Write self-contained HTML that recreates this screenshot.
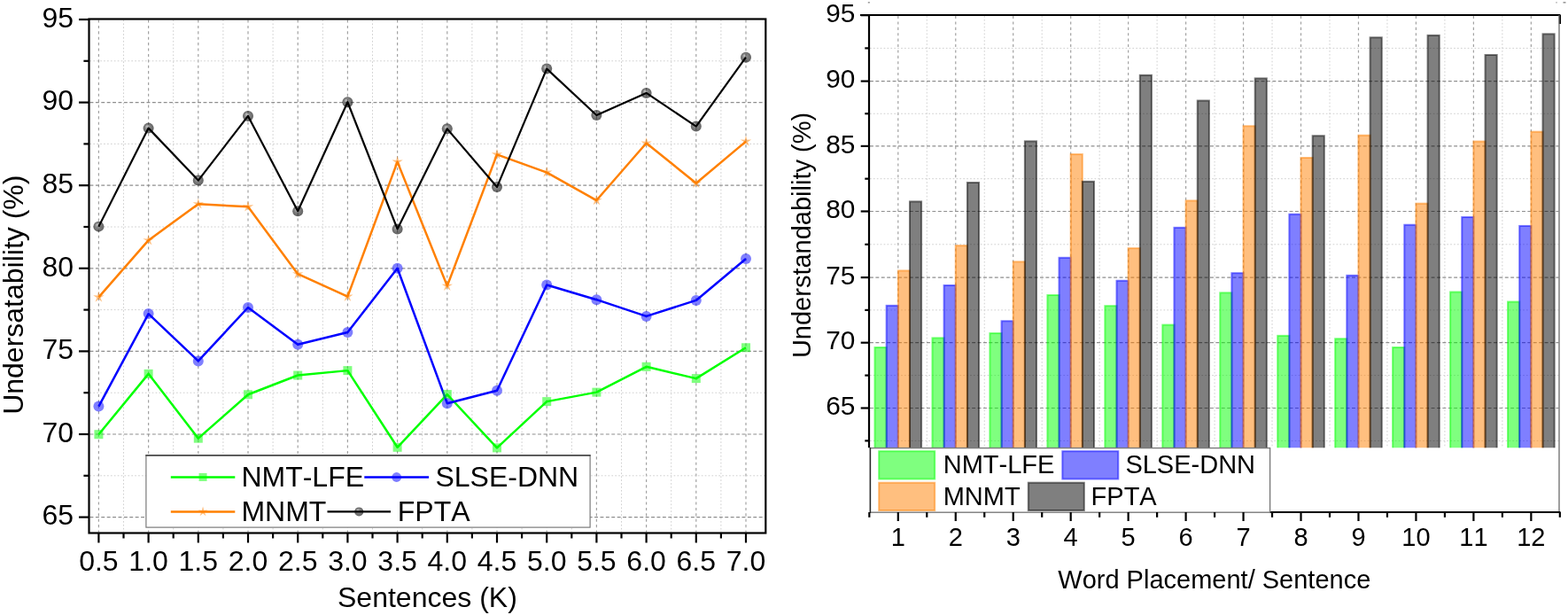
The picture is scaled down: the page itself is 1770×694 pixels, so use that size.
<!DOCTYPE html>
<html><head><meta charset="utf-8"><title>Understandability charts</title>
<style>
html,body{margin:0;padding:0;background:#fff;}
body{width:1770px;height:694px;overflow:hidden;}
svg{display:block;font-family:"Liberation Sans", Arial, sans-serif;}
text{fill:#000;font-kerning:none;}
</style></head>
<body>
<svg width="1770" height="694" viewBox="0 0 1770 694">
<defs><radialGradient id="sph" cx="0.5" cy="0.5" r="0.5" fx="0.35" fy="0.32"><stop offset="0" stop-color="#000" stop-opacity="0.22"/><stop offset="0.45" stop-color="#000" stop-opacity="0.48"/><stop offset="1" stop-color="#000" stop-opacity="0.62"/></radialGradient></defs>
<rect width="1770" height="694" fill="#fff"/>
<line x1="111.4" y1="22.5" x2="111.4" y2="600.5" stroke="#a2a2a2" stroke-width="1.2" stroke-dasharray="3.1 3.3"/>
<line x1="167.6" y1="22.5" x2="167.6" y2="600.5" stroke="#a2a2a2" stroke-width="1.2" stroke-dasharray="3.1 3.3"/>
<line x1="223.8" y1="22.5" x2="223.8" y2="600.5" stroke="#a2a2a2" stroke-width="1.2" stroke-dasharray="3.1 3.3"/>
<line x1="280" y1="22.5" x2="280" y2="600.5" stroke="#a2a2a2" stroke-width="1.2" stroke-dasharray="3.1 3.3"/>
<line x1="336.2" y1="22.5" x2="336.2" y2="600.5" stroke="#a2a2a2" stroke-width="1.2" stroke-dasharray="3.1 3.3"/>
<line x1="392.4" y1="22.5" x2="392.4" y2="600.5" stroke="#a2a2a2" stroke-width="1.2" stroke-dasharray="3.1 3.3"/>
<line x1="448.6" y1="22.5" x2="448.6" y2="600.5" stroke="#a2a2a2" stroke-width="1.2" stroke-dasharray="3.1 3.3"/>
<line x1="504.8" y1="22.5" x2="504.8" y2="600.5" stroke="#a2a2a2" stroke-width="1.2" stroke-dasharray="3.1 3.3"/>
<line x1="561" y1="22.5" x2="561" y2="600.5" stroke="#a2a2a2" stroke-width="1.2" stroke-dasharray="3.1 3.3"/>
<line x1="617.2" y1="22.5" x2="617.2" y2="600.5" stroke="#a2a2a2" stroke-width="1.2" stroke-dasharray="3.1 3.3"/>
<line x1="673.4" y1="22.5" x2="673.4" y2="600.5" stroke="#a2a2a2" stroke-width="1.2" stroke-dasharray="3.1 3.3"/>
<line x1="729.6" y1="22.5" x2="729.6" y2="600.5" stroke="#a2a2a2" stroke-width="1.2" stroke-dasharray="3.1 3.3"/>
<line x1="785.8" y1="22.5" x2="785.8" y2="600.5" stroke="#a2a2a2" stroke-width="1.2" stroke-dasharray="3.1 3.3"/>
<line x1="842" y1="22.5" x2="842" y2="600.5" stroke="#a2a2a2" stroke-width="1.2" stroke-dasharray="3.1 3.3"/>
<line x1="139.5" y1="22.5" x2="139.5" y2="600.5" stroke="#d0d0d0" stroke-width="1" stroke-dasharray="1.7 2.2"/>
<line x1="195.7" y1="22.5" x2="195.7" y2="600.5" stroke="#d0d0d0" stroke-width="1" stroke-dasharray="1.7 2.2"/>
<line x1="251.9" y1="22.5" x2="251.9" y2="600.5" stroke="#d0d0d0" stroke-width="1" stroke-dasharray="1.7 2.2"/>
<line x1="308.1" y1="22.5" x2="308.1" y2="600.5" stroke="#d0d0d0" stroke-width="1" stroke-dasharray="1.7 2.2"/>
<line x1="364.3" y1="22.5" x2="364.3" y2="600.5" stroke="#d0d0d0" stroke-width="1" stroke-dasharray="1.7 2.2"/>
<line x1="420.5" y1="22.5" x2="420.5" y2="600.5" stroke="#d0d0d0" stroke-width="1" stroke-dasharray="1.7 2.2"/>
<line x1="476.7" y1="22.5" x2="476.7" y2="600.5" stroke="#d0d0d0" stroke-width="1" stroke-dasharray="1.7 2.2"/>
<line x1="532.9" y1="22.5" x2="532.9" y2="600.5" stroke="#d0d0d0" stroke-width="1" stroke-dasharray="1.7 2.2"/>
<line x1="589.1" y1="22.5" x2="589.1" y2="600.5" stroke="#d0d0d0" stroke-width="1" stroke-dasharray="1.7 2.2"/>
<line x1="645.3" y1="22.5" x2="645.3" y2="600.5" stroke="#d0d0d0" stroke-width="1" stroke-dasharray="1.7 2.2"/>
<line x1="701.5" y1="22.5" x2="701.5" y2="600.5" stroke="#d0d0d0" stroke-width="1" stroke-dasharray="1.7 2.2"/>
<line x1="757.7" y1="22.5" x2="757.7" y2="600.5" stroke="#d0d0d0" stroke-width="1" stroke-dasharray="1.7 2.2"/>
<line x1="813.9" y1="22.5" x2="813.9" y2="600.5" stroke="#d0d0d0" stroke-width="1" stroke-dasharray="1.7 2.2"/>
<line x1="101.5" y1="583.6" x2="863.3" y2="583.6" stroke="#8e8e8e" stroke-width="1.2" stroke-dasharray="3.9 2.5"/>
<line x1="101.5" y1="490" x2="863.3" y2="490" stroke="#8e8e8e" stroke-width="1.2" stroke-dasharray="3.9 2.5"/>
<line x1="101.5" y1="396.4" x2="863.3" y2="396.4" stroke="#8e8e8e" stroke-width="1.2" stroke-dasharray="3.9 2.5"/>
<line x1="101.5" y1="302.8" x2="863.3" y2="302.8" stroke="#8e8e8e" stroke-width="1.2" stroke-dasharray="3.9 2.5"/>
<line x1="101.5" y1="209.2" x2="863.3" y2="209.2" stroke="#8e8e8e" stroke-width="1.2" stroke-dasharray="3.9 2.5"/>
<line x1="101.5" y1="115.6" x2="863.3" y2="115.6" stroke="#8e8e8e" stroke-width="1.2" stroke-dasharray="3.9 2.5"/>
<line x1="101.5" y1="536.8" x2="863.3" y2="536.8" stroke="#d0d0d0" stroke-width="1" stroke-dasharray="1.7 2.2"/>
<line x1="101.5" y1="443.2" x2="863.3" y2="443.2" stroke="#d0d0d0" stroke-width="1" stroke-dasharray="1.7 2.2"/>
<line x1="101.5" y1="349.6" x2="863.3" y2="349.6" stroke="#d0d0d0" stroke-width="1" stroke-dasharray="1.7 2.2"/>
<line x1="101.5" y1="256" x2="863.3" y2="256" stroke="#d0d0d0" stroke-width="1" stroke-dasharray="1.7 2.2"/>
<line x1="101.5" y1="162.4" x2="863.3" y2="162.4" stroke="#d0d0d0" stroke-width="1" stroke-dasharray="1.7 2.2"/>
<line x1="101.5" y1="68.8" x2="863.3" y2="68.8" stroke="#d0d0d0" stroke-width="1" stroke-dasharray="1.7 2.2"/>
<polyline points="111.4,490.19 167.6,421.86 223.8,494.68 280,445.26 336.2,423.54 392.4,418.12 448.6,504.79 504.8,445.07 561,505.35 617.2,453.12 673.4,442.64 729.6,413.81 785.8,427.1 842,392.28" fill="none" stroke="#00ff00" stroke-width="2.5" stroke-linejoin="round"/>
<polyline points="111.4,458.55 167.6,354.09 223.8,407.44 280,346.98 336.2,388.72 392.4,375.06 448.6,302.8 504.8,455.18 561,440.77 617.2,321.52 673.4,338.18 729.6,356.9 785.8,338.93 842,291.94" fill="none" stroke="#0000ff" stroke-width="2.5" stroke-linejoin="round"/>
<polyline points="111.4,335.37 167.6,271.16 223.8,230.17 280,233.35 336.2,309.16 392.4,334.62 448.6,182.62 504.8,322.64 561,174.38 617.2,194.6 673.4,226.05 729.6,161.46 785.8,206.77 842,159.59" fill="none" stroke="#ff8000" stroke-width="2.5" stroke-linejoin="round"/>
<polyline points="111.4,255.63 167.6,144.62 223.8,203.58 280,130.95 336.2,238.22 392.4,115.23 448.6,258.43 504.8,145.36 561,211.07 617.2,77.6 673.4,130.01 729.6,104.93 785.8,142.56 842,64.68" fill="none" stroke="#000000" stroke-width="2.2" stroke-linejoin="round"/>
<rect x="106.4" y="485.19" width="10" height="10" fill="#00ff00" fill-opacity="0.5"/>
<rect x="162.6" y="416.86" width="10" height="10" fill="#00ff00" fill-opacity="0.5"/>
<rect x="218.8" y="489.68" width="10" height="10" fill="#00ff00" fill-opacity="0.5"/>
<rect x="275" y="440.26" width="10" height="10" fill="#00ff00" fill-opacity="0.5"/>
<rect x="331.2" y="418.54" width="10" height="10" fill="#00ff00" fill-opacity="0.5"/>
<rect x="387.4" y="413.12" width="10" height="10" fill="#00ff00" fill-opacity="0.5"/>
<rect x="443.6" y="499.79" width="10" height="10" fill="#00ff00" fill-opacity="0.5"/>
<rect x="499.8" y="440.07" width="10" height="10" fill="#00ff00" fill-opacity="0.5"/>
<rect x="556" y="500.35" width="10" height="10" fill="#00ff00" fill-opacity="0.5"/>
<rect x="612.2" y="448.12" width="10" height="10" fill="#00ff00" fill-opacity="0.5"/>
<rect x="668.4" y="437.64" width="10" height="10" fill="#00ff00" fill-opacity="0.5"/>
<rect x="724.6" y="408.81" width="10" height="10" fill="#00ff00" fill-opacity="0.5"/>
<rect x="780.8" y="422.1" width="10" height="10" fill="#00ff00" fill-opacity="0.5"/>
<rect x="837" y="387.28" width="10" height="10" fill="#00ff00" fill-opacity="0.5"/>
<circle cx="111.4" cy="458.55" r="6" fill="#0000ff" fill-opacity="0.5"/>
<circle cx="167.6" cy="354.09" r="6" fill="#0000ff" fill-opacity="0.5"/>
<circle cx="223.8" cy="407.44" r="6" fill="#0000ff" fill-opacity="0.5"/>
<circle cx="280" cy="346.98" r="6" fill="#0000ff" fill-opacity="0.5"/>
<circle cx="336.2" cy="388.72" r="6" fill="#0000ff" fill-opacity="0.5"/>
<circle cx="392.4" cy="375.06" r="6" fill="#0000ff" fill-opacity="0.5"/>
<circle cx="448.6" cy="302.8" r="6" fill="#0000ff" fill-opacity="0.5"/>
<circle cx="504.8" cy="455.18" r="6" fill="#0000ff" fill-opacity="0.5"/>
<circle cx="561" cy="440.77" r="6" fill="#0000ff" fill-opacity="0.5"/>
<circle cx="617.2" cy="321.52" r="6" fill="#0000ff" fill-opacity="0.5"/>
<circle cx="673.4" cy="338.18" r="6" fill="#0000ff" fill-opacity="0.5"/>
<circle cx="729.6" cy="356.9" r="6" fill="#0000ff" fill-opacity="0.5"/>
<circle cx="785.8" cy="338.93" r="6" fill="#0000ff" fill-opacity="0.5"/>
<circle cx="842" cy="291.94" r="6" fill="#0000ff" fill-opacity="0.5"/>
<polygon points="111.4,328.87 112.69,333.59 117.58,333.36 113.49,336.05 115.22,340.63 111.4,337.57 107.58,340.63 109.31,336.05 105.22,333.36 110.11,333.59" fill="#ff8000" fill-opacity="0.5"/>
<polygon points="167.6,264.66 168.89,269.38 173.78,269.15 169.69,271.84 171.42,276.42 167.6,273.36 163.78,276.42 165.51,271.84 161.42,269.15 166.31,269.38" fill="#ff8000" fill-opacity="0.5"/>
<polygon points="223.8,223.67 225.09,228.39 229.98,228.16 225.89,230.85 227.62,235.43 223.8,232.37 219.98,235.43 221.71,230.85 217.62,228.16 222.51,228.39" fill="#ff8000" fill-opacity="0.5"/>
<polygon points="280,226.85 281.29,231.57 286.18,231.34 282.09,234.03 283.82,238.61 280,235.55 276.18,238.61 277.91,234.03 273.82,231.34 278.71,231.57" fill="#ff8000" fill-opacity="0.5"/>
<polygon points="336.2,302.66 337.49,307.38 342.38,307.16 338.29,309.84 340.02,314.42 336.2,311.36 332.38,314.42 334.11,309.84 330.02,307.16 334.91,307.38" fill="#ff8000" fill-opacity="0.5"/>
<polygon points="392.4,328.12 393.69,332.84 398.58,332.62 394.49,335.3 396.22,339.88 392.4,336.82 388.58,339.88 390.31,335.3 386.22,332.62 391.11,332.84" fill="#ff8000" fill-opacity="0.5"/>
<polygon points="448.6,176.12 449.89,180.84 454.78,180.61 450.69,183.3 452.42,187.88 448.6,184.82 444.78,187.88 446.51,183.3 442.42,180.61 447.31,180.84" fill="#ff8000" fill-opacity="0.5"/>
<polygon points="504.8,316.14 506.09,320.86 510.98,320.63 506.89,323.32 508.62,327.9 504.8,324.84 500.98,327.9 502.71,323.32 498.62,320.63 503.51,320.86" fill="#ff8000" fill-opacity="0.5"/>
<polygon points="561,167.88 562.29,172.6 567.18,172.37 563.09,175.06 564.82,179.64 561,176.58 557.18,179.64 558.91,175.06 554.82,172.37 559.71,172.6" fill="#ff8000" fill-opacity="0.5"/>
<polygon points="617.2,188.1 618.49,192.82 623.38,192.59 619.29,195.28 621.02,199.86 617.2,196.8 613.38,199.86 615.11,195.28 611.02,192.59 615.91,192.82" fill="#ff8000" fill-opacity="0.5"/>
<polygon points="673.4,219.55 674.69,224.27 679.58,224.04 675.49,226.73 677.22,231.31 673.4,228.25 669.58,231.31 671.31,226.73 667.22,224.04 672.11,224.27" fill="#ff8000" fill-opacity="0.5"/>
<polygon points="729.6,154.96 730.89,159.68 735.78,159.46 731.69,162.14 733.42,166.72 729.6,163.66 725.78,166.72 727.51,162.14 723.42,159.46 728.31,159.68" fill="#ff8000" fill-opacity="0.5"/>
<polygon points="785.8,200.27 787.09,204.99 791.98,204.76 787.89,207.45 789.62,212.03 785.8,208.97 781.98,212.03 783.71,207.45 779.62,204.76 784.51,204.99" fill="#ff8000" fill-opacity="0.5"/>
<polygon points="842,153.09 843.29,157.81 848.18,157.58 844.09,160.27 845.82,164.85 842,161.79 838.18,164.85 839.91,160.27 835.82,157.58 840.71,157.81" fill="#ff8000" fill-opacity="0.5"/>
<circle cx="111.4" cy="255.63" r="6" fill="url(#sph)"/>
<circle cx="167.6" cy="144.62" r="6" fill="url(#sph)"/>
<circle cx="223.8" cy="203.58" r="6" fill="url(#sph)"/>
<circle cx="280" cy="130.95" r="6" fill="url(#sph)"/>
<circle cx="336.2" cy="238.22" r="6" fill="url(#sph)"/>
<circle cx="392.4" cy="115.23" r="6" fill="url(#sph)"/>
<circle cx="448.6" cy="258.43" r="6" fill="url(#sph)"/>
<circle cx="504.8" cy="145.36" r="6" fill="url(#sph)"/>
<circle cx="561" cy="211.07" r="6" fill="url(#sph)"/>
<circle cx="617.2" cy="77.6" r="6" fill="url(#sph)"/>
<circle cx="673.4" cy="130.01" r="6" fill="url(#sph)"/>
<circle cx="729.6" cy="104.93" r="6" fill="url(#sph)"/>
<circle cx="785.8" cy="142.56" r="6" fill="url(#sph)"/>
<circle cx="842" cy="64.68" r="6" fill="url(#sph)"/>
<rect x="100.5" y="21.5" width="763.8" height="580" fill="none" stroke="#000" stroke-width="2.2"/>
<line x1="89" y1="583.6" x2="100.5" y2="583.6" stroke="#000" stroke-width="2.2"/>
<text x="83.1" y="592.4" text-anchor="end" font-size="32">65</text>
<line x1="89" y1="490" x2="100.5" y2="490" stroke="#000" stroke-width="2.2"/>
<text x="83.1" y="498.8" text-anchor="end" font-size="32">70</text>
<line x1="89" y1="396.4" x2="100.5" y2="396.4" stroke="#000" stroke-width="2.2"/>
<text x="83.1" y="405.2" text-anchor="end" font-size="32">75</text>
<line x1="89" y1="302.8" x2="100.5" y2="302.8" stroke="#000" stroke-width="2.2"/>
<text x="83.1" y="311.6" text-anchor="end" font-size="32">80</text>
<line x1="89" y1="209.2" x2="100.5" y2="209.2" stroke="#000" stroke-width="2.2"/>
<text x="83.1" y="218" text-anchor="end" font-size="32">85</text>
<line x1="89" y1="115.6" x2="100.5" y2="115.6" stroke="#000" stroke-width="2.2"/>
<text x="83.1" y="124.4" text-anchor="end" font-size="32">90</text>
<line x1="89" y1="22" x2="100.5" y2="22" stroke="#000" stroke-width="2.2"/>
<text x="83.1" y="30.8" text-anchor="end" font-size="32">95</text>
<line x1="94.4" y1="536.8" x2="100.5" y2="536.8" stroke="#000" stroke-width="2.2"/>
<line x1="94.4" y1="443.2" x2="100.5" y2="443.2" stroke="#000" stroke-width="2.2"/>
<line x1="94.4" y1="349.6" x2="100.5" y2="349.6" stroke="#000" stroke-width="2.2"/>
<line x1="94.4" y1="256" x2="100.5" y2="256" stroke="#000" stroke-width="2.2"/>
<line x1="94.4" y1="162.4" x2="100.5" y2="162.4" stroke="#000" stroke-width="2.2"/>
<line x1="94.4" y1="68.8" x2="100.5" y2="68.8" stroke="#000" stroke-width="2.2"/>
<line x1="111.4" y1="601.5" x2="111.4" y2="612.5" stroke="#000" stroke-width="2.2"/>
<text x="111.4" y="644.2" text-anchor="middle" font-size="32">0.5</text>
<line x1="167.6" y1="601.5" x2="167.6" y2="612.5" stroke="#000" stroke-width="2.2"/>
<text x="167.6" y="644.2" text-anchor="middle" font-size="32">1.0</text>
<line x1="223.8" y1="601.5" x2="223.8" y2="612.5" stroke="#000" stroke-width="2.2"/>
<text x="223.8" y="644.2" text-anchor="middle" font-size="32">1.5</text>
<line x1="280" y1="601.5" x2="280" y2="612.5" stroke="#000" stroke-width="2.2"/>
<text x="280" y="644.2" text-anchor="middle" font-size="32">2.0</text>
<line x1="336.2" y1="601.5" x2="336.2" y2="612.5" stroke="#000" stroke-width="2.2"/>
<text x="336.2" y="644.2" text-anchor="middle" font-size="32">2.5</text>
<line x1="392.4" y1="601.5" x2="392.4" y2="612.5" stroke="#000" stroke-width="2.2"/>
<text x="392.4" y="644.2" text-anchor="middle" font-size="32">3.0</text>
<line x1="448.6" y1="601.5" x2="448.6" y2="612.5" stroke="#000" stroke-width="2.2"/>
<text x="448.6" y="644.2" text-anchor="middle" font-size="32">3.5</text>
<line x1="504.8" y1="601.5" x2="504.8" y2="612.5" stroke="#000" stroke-width="2.2"/>
<text x="504.8" y="644.2" text-anchor="middle" font-size="32">4.0</text>
<line x1="561" y1="601.5" x2="561" y2="612.5" stroke="#000" stroke-width="2.2"/>
<text x="561" y="644.2" text-anchor="middle" font-size="32">4.5</text>
<line x1="617.2" y1="601.5" x2="617.2" y2="612.5" stroke="#000" stroke-width="2.2"/>
<text x="617.2" y="644.2" text-anchor="middle" font-size="32">5.0</text>
<line x1="673.4" y1="601.5" x2="673.4" y2="612.5" stroke="#000" stroke-width="2.2"/>
<text x="673.4" y="644.2" text-anchor="middle" font-size="32">5.5</text>
<line x1="729.6" y1="601.5" x2="729.6" y2="612.5" stroke="#000" stroke-width="2.2"/>
<text x="729.6" y="644.2" text-anchor="middle" font-size="32">6.0</text>
<line x1="785.8" y1="601.5" x2="785.8" y2="612.5" stroke="#000" stroke-width="2.2"/>
<text x="785.8" y="644.2" text-anchor="middle" font-size="32">6.5</text>
<line x1="842" y1="601.5" x2="842" y2="612.5" stroke="#000" stroke-width="2.2"/>
<text x="842" y="644.2" text-anchor="middle" font-size="32">7.0</text>
<line x1="139.5" y1="601.5" x2="139.5" y2="607.5" stroke="#000" stroke-width="2.2"/>
<line x1="195.7" y1="601.5" x2="195.7" y2="607.5" stroke="#000" stroke-width="2.2"/>
<line x1="251.9" y1="601.5" x2="251.9" y2="607.5" stroke="#000" stroke-width="2.2"/>
<line x1="308.1" y1="601.5" x2="308.1" y2="607.5" stroke="#000" stroke-width="2.2"/>
<line x1="364.3" y1="601.5" x2="364.3" y2="607.5" stroke="#000" stroke-width="2.2"/>
<line x1="420.5" y1="601.5" x2="420.5" y2="607.5" stroke="#000" stroke-width="2.2"/>
<line x1="476.7" y1="601.5" x2="476.7" y2="607.5" stroke="#000" stroke-width="2.2"/>
<line x1="532.9" y1="601.5" x2="532.9" y2="607.5" stroke="#000" stroke-width="2.2"/>
<line x1="589.1" y1="601.5" x2="589.1" y2="607.5" stroke="#000" stroke-width="2.2"/>
<line x1="645.3" y1="601.5" x2="645.3" y2="607.5" stroke="#000" stroke-width="2.2"/>
<line x1="701.5" y1="601.5" x2="701.5" y2="607.5" stroke="#000" stroke-width="2.2"/>
<line x1="757.7" y1="601.5" x2="757.7" y2="607.5" stroke="#000" stroke-width="2.2"/>
<line x1="813.9" y1="601.5" x2="813.9" y2="607.5" stroke="#000" stroke-width="2.2"/>
<text x="482.4" y="684.7" text-anchor="middle" font-size="32">Sentences (K)</text>
<text transform="translate(25.8,332.7) rotate(-90)" text-anchor="middle" font-size="32">Undersatability (%)</text>
<rect x="164.9" y="513.9" width="501.2" height="81.2" fill="#fff" stroke="#7a7a7a" stroke-width="1.2"/>
<line x1="164.3" y1="513.9" x2="666.7" y2="513.9" stroke="#2a2a2a" stroke-width="1.3"/>
<line x1="192.8" y1="538.4" x2="265.3" y2="538.4" stroke="#00ff00" stroke-width="2.5"/>
<rect x="224.55" y="533.9" width="9" height="9" fill="#00ff00" fill-opacity="0.5"/>
<text x="272.4" y="549.3" font-size="32">NMT-LFE</text>
<line x1="411.3" y1="538.5" x2="484.1" y2="538.5" stroke="#0000ff" stroke-width="2.5"/>
<circle cx="447.7" cy="538.5" r="5.4" fill="#0000ff" fill-opacity="0.5"/>
<text x="491.4" y="549.3" font-size="32">SLSE-DNN</text>
<line x1="192.8" y1="577.4" x2="265.3" y2="577.4" stroke="#ff8000" stroke-width="2.5"/>
<polygon points="229.05,571.55 230.21,575.8 234.61,575.59 230.93,578.01 232.49,582.13 229.05,579.38 225.61,582.13 227.17,578.01 223.49,575.59 227.89,575.8" fill="#ff8000" fill-opacity="0.5"/>
<text x="272.4" y="588.3" font-size="32">MNMT</text>
<line x1="369.5" y1="577.4" x2="441" y2="577.4" stroke="#000000" stroke-width="2.2"/>
<circle cx="405.25" cy="577.4" r="5" fill="url(#sph)"/>
<text x="448.8" y="588.3" font-size="32">FPTA</text>
<line x1="1013.8" y1="18" x2="1013.8" y2="505.2" stroke="#a2a2a2" stroke-width="1.2" stroke-dasharray="3.1 3.3"/>
<line x1="1078.76" y1="18" x2="1078.76" y2="505.2" stroke="#a2a2a2" stroke-width="1.2" stroke-dasharray="3.1 3.3"/>
<line x1="1143.72" y1="18" x2="1143.72" y2="505.2" stroke="#a2a2a2" stroke-width="1.2" stroke-dasharray="3.1 3.3"/>
<line x1="1208.68" y1="18" x2="1208.68" y2="505.2" stroke="#a2a2a2" stroke-width="1.2" stroke-dasharray="3.1 3.3"/>
<line x1="1273.64" y1="18" x2="1273.64" y2="505.2" stroke="#a2a2a2" stroke-width="1.2" stroke-dasharray="3.1 3.3"/>
<line x1="1338.6" y1="18" x2="1338.6" y2="505.2" stroke="#a2a2a2" stroke-width="1.2" stroke-dasharray="3.1 3.3"/>
<line x1="1403.56" y1="18" x2="1403.56" y2="505.2" stroke="#a2a2a2" stroke-width="1.2" stroke-dasharray="3.1 3.3"/>
<line x1="1468.52" y1="18" x2="1468.52" y2="505.2" stroke="#a2a2a2" stroke-width="1.2" stroke-dasharray="3.1 3.3"/>
<line x1="1533.48" y1="18" x2="1533.48" y2="505.2" stroke="#a2a2a2" stroke-width="1.2" stroke-dasharray="3.1 3.3"/>
<line x1="1598.44" y1="18" x2="1598.44" y2="505.2" stroke="#a2a2a2" stroke-width="1.2" stroke-dasharray="3.1 3.3"/>
<line x1="1663.4" y1="18" x2="1663.4" y2="505.2" stroke="#a2a2a2" stroke-width="1.2" stroke-dasharray="3.1 3.3"/>
<line x1="1728.36" y1="18" x2="1728.36" y2="505.2" stroke="#a2a2a2" stroke-width="1.2" stroke-dasharray="3.1 3.3"/>
<line x1="1046.28" y1="18" x2="1046.28" y2="505.2" stroke="#d0d0d0" stroke-width="1" stroke-dasharray="1.7 2.2"/>
<line x1="1111.24" y1="18" x2="1111.24" y2="505.2" stroke="#d0d0d0" stroke-width="1" stroke-dasharray="1.7 2.2"/>
<line x1="1176.2" y1="18" x2="1176.2" y2="505.2" stroke="#d0d0d0" stroke-width="1" stroke-dasharray="1.7 2.2"/>
<line x1="1241.16" y1="18" x2="1241.16" y2="505.2" stroke="#d0d0d0" stroke-width="1" stroke-dasharray="1.7 2.2"/>
<line x1="1306.12" y1="18" x2="1306.12" y2="505.2" stroke="#d0d0d0" stroke-width="1" stroke-dasharray="1.7 2.2"/>
<line x1="1371.08" y1="18" x2="1371.08" y2="505.2" stroke="#d0d0d0" stroke-width="1" stroke-dasharray="1.7 2.2"/>
<line x1="1436.04" y1="18" x2="1436.04" y2="505.2" stroke="#d0d0d0" stroke-width="1" stroke-dasharray="1.7 2.2"/>
<line x1="1501" y1="18" x2="1501" y2="505.2" stroke="#d0d0d0" stroke-width="1" stroke-dasharray="1.7 2.2"/>
<line x1="1565.96" y1="18" x2="1565.96" y2="505.2" stroke="#d0d0d0" stroke-width="1" stroke-dasharray="1.7 2.2"/>
<line x1="1630.92" y1="18" x2="1630.92" y2="505.2" stroke="#d0d0d0" stroke-width="1" stroke-dasharray="1.7 2.2"/>
<line x1="1695.88" y1="18" x2="1695.88" y2="505.2" stroke="#d0d0d0" stroke-width="1" stroke-dasharray="1.7 2.2"/>
<line x1="982" y1="460.5" x2="1759.5" y2="460.5" stroke="#8e8e8e" stroke-width="1.2" stroke-dasharray="3.9 2.5"/>
<line x1="982" y1="386.7" x2="1759.5" y2="386.7" stroke="#8e8e8e" stroke-width="1.2" stroke-dasharray="3.9 2.5"/>
<line x1="982" y1="313.1" x2="1759.5" y2="313.1" stroke="#8e8e8e" stroke-width="1.2" stroke-dasharray="3.9 2.5"/>
<line x1="982" y1="238.5" x2="1759.5" y2="238.5" stroke="#8e8e8e" stroke-width="1.2" stroke-dasharray="3.9 2.5"/>
<line x1="982" y1="164.9" x2="1759.5" y2="164.9" stroke="#8e8e8e" stroke-width="1.2" stroke-dasharray="3.9 2.5"/>
<line x1="982" y1="91.6" x2="1759.5" y2="91.6" stroke="#8e8e8e" stroke-width="1.2" stroke-dasharray="3.9 2.5"/>
<line x1="982" y1="497.4" x2="1759.5" y2="497.4" stroke="#d0d0d0" stroke-width="1" stroke-dasharray="1.7 2.2"/>
<line x1="982" y1="423.6" x2="1759.5" y2="423.6" stroke="#d0d0d0" stroke-width="1" stroke-dasharray="1.7 2.2"/>
<line x1="982" y1="349.9" x2="1759.5" y2="349.9" stroke="#d0d0d0" stroke-width="1" stroke-dasharray="1.7 2.2"/>
<line x1="982" y1="275.8" x2="1759.5" y2="275.8" stroke="#d0d0d0" stroke-width="1" stroke-dasharray="1.7 2.2"/>
<line x1="982" y1="201.7" x2="1759.5" y2="201.7" stroke="#d0d0d0" stroke-width="1" stroke-dasharray="1.7 2.2"/>
<line x1="982" y1="128.25" x2="1759.5" y2="128.25" stroke="#d0d0d0" stroke-width="1" stroke-dasharray="1.7 2.2"/>
<line x1="982" y1="54.4" x2="1759.5" y2="54.4" stroke="#d0d0d0" stroke-width="1" stroke-dasharray="1.7 2.2"/>
<clipPath id="pc"><rect x="982" y="0" width="778.5" height="505.2"/></clipPath>
<g clip-path="url(#pc)">
<rect x="987.5" y="392.03" width="13.15" height="118.17" fill="#00ff00" fill-opacity="0.5" stroke="#00ff00" stroke-opacity="0.5" stroke-width="2"/>
<rect x="1000.65" y="344.85" width="13.15" height="165.35" fill="#0000ff" fill-opacity="0.5" stroke="#0000ff" stroke-opacity="0.5" stroke-width="2"/>
<rect x="1013.8" y="305.42" width="13.15" height="204.78" fill="#ff8000" fill-opacity="0.5" stroke="#ff8000" stroke-opacity="0.5" stroke-width="2"/>
<rect x="1026.95" y="227.43" width="13.15" height="282.77" fill="#000000" fill-opacity="0.5" stroke="#000000" stroke-opacity="0.5" stroke-width="2"/>
<rect x="1052.46" y="381.39" width="13.15" height="128.81" fill="#00ff00" fill-opacity="0.5" stroke="#00ff00" stroke-opacity="0.5" stroke-width="2"/>
<rect x="1065.61" y="321.98" width="13.15" height="188.22" fill="#0000ff" fill-opacity="0.5" stroke="#0000ff" stroke-opacity="0.5" stroke-width="2"/>
<rect x="1078.76" y="277.16" width="13.15" height="233.04" fill="#ff8000" fill-opacity="0.5" stroke="#ff8000" stroke-opacity="0.5" stroke-width="2"/>
<rect x="1091.91" y="206.03" width="13.15" height="304.17" fill="#000000" fill-opacity="0.5" stroke="#000000" stroke-opacity="0.5" stroke-width="2"/>
<rect x="1117.42" y="376.06" width="13.15" height="134.14" fill="#00ff00" fill-opacity="0.5" stroke="#00ff00" stroke-opacity="0.5" stroke-width="2"/>
<rect x="1130.57" y="362.3" width="13.15" height="147.9" fill="#0000ff" fill-opacity="0.5" stroke="#0000ff" stroke-opacity="0.5" stroke-width="2"/>
<rect x="1143.72" y="295.36" width="13.15" height="214.84" fill="#ff8000" fill-opacity="0.5" stroke="#ff8000" stroke-opacity="0.5" stroke-width="2"/>
<rect x="1156.87" y="159.4" width="13.15" height="350.8" fill="#000000" fill-opacity="0.5" stroke="#000000" stroke-opacity="0.5" stroke-width="2"/>
<rect x="1182.38" y="333.02" width="13.15" height="177.18" fill="#00ff00" fill-opacity="0.5" stroke="#00ff00" stroke-opacity="0.5" stroke-width="2"/>
<rect x="1195.53" y="290.82" width="13.15" height="219.38" fill="#0000ff" fill-opacity="0.5" stroke="#0000ff" stroke-opacity="0.5" stroke-width="2"/>
<rect x="1208.68" y="174.07" width="13.15" height="336.13" fill="#ff8000" fill-opacity="0.5" stroke="#ff8000" stroke-opacity="0.5" stroke-width="2"/>
<rect x="1221.83" y="204.84" width="13.15" height="305.36" fill="#000000" fill-opacity="0.5" stroke="#000000" stroke-opacity="0.5" stroke-width="2"/>
<rect x="1247.34" y="345.19" width="13.15" height="165.01" fill="#00ff00" fill-opacity="0.5" stroke="#00ff00" stroke-opacity="0.5" stroke-width="2"/>
<rect x="1260.49" y="316.75" width="13.15" height="193.45" fill="#0000ff" fill-opacity="0.5" stroke="#0000ff" stroke-opacity="0.5" stroke-width="2"/>
<rect x="1273.64" y="280.13" width="13.15" height="230.07" fill="#ff8000" fill-opacity="0.5" stroke="#ff8000" stroke-opacity="0.5" stroke-width="2"/>
<rect x="1286.79" y="84.84" width="13.15" height="425.36" fill="#000000" fill-opacity="0.5" stroke="#000000" stroke-opacity="0.5" stroke-width="2"/>
<rect x="1312.3" y="366.6" width="13.15" height="143.6" fill="#00ff00" fill-opacity="0.5" stroke="#00ff00" stroke-opacity="0.5" stroke-width="2"/>
<rect x="1325.45" y="256.85" width="13.15" height="253.35" fill="#0000ff" fill-opacity="0.5" stroke="#0000ff" stroke-opacity="0.5" stroke-width="2"/>
<rect x="1338.6" y="226.44" width="13.15" height="283.76" fill="#ff8000" fill-opacity="0.5" stroke="#ff8000" stroke-opacity="0.5" stroke-width="2"/>
<rect x="1351.75" y="113.54" width="13.15" height="396.66" fill="#000000" fill-opacity="0.5" stroke="#000000" stroke-opacity="0.5" stroke-width="2"/>
<rect x="1377.26" y="330.36" width="13.15" height="179.84" fill="#00ff00" fill-opacity="0.5" stroke="#00ff00" stroke-opacity="0.5" stroke-width="2"/>
<rect x="1390.41" y="308.18" width="13.15" height="202.02" fill="#0000ff" fill-opacity="0.5" stroke="#0000ff" stroke-opacity="0.5" stroke-width="2"/>
<rect x="1403.56" y="142.28" width="13.15" height="367.92" fill="#ff8000" fill-opacity="0.5" stroke="#ff8000" stroke-opacity="0.5" stroke-width="2"/>
<rect x="1416.71" y="88.44" width="13.15" height="421.76" fill="#000000" fill-opacity="0.5" stroke="#000000" stroke-opacity="0.5" stroke-width="2"/>
<rect x="1442.22" y="378.87" width="13.15" height="131.33" fill="#00ff00" fill-opacity="0.5" stroke="#00ff00" stroke-opacity="0.5" stroke-width="2"/>
<rect x="1455.37" y="241.76" width="13.15" height="268.44" fill="#0000ff" fill-opacity="0.5" stroke="#0000ff" stroke-opacity="0.5" stroke-width="2"/>
<rect x="1468.52" y="178.02" width="13.15" height="332.18" fill="#ff8000" fill-opacity="0.5" stroke="#ff8000" stroke-opacity="0.5" stroke-width="2"/>
<rect x="1481.67" y="153.26" width="13.15" height="356.94" fill="#000000" fill-opacity="0.5" stroke="#000000" stroke-opacity="0.5" stroke-width="2"/>
<rect x="1507.18" y="382.27" width="13.15" height="127.93" fill="#00ff00" fill-opacity="0.5" stroke="#00ff00" stroke-opacity="0.5" stroke-width="2"/>
<rect x="1520.33" y="310.83" width="13.15" height="199.37" fill="#0000ff" fill-opacity="0.5" stroke="#0000ff" stroke-opacity="0.5" stroke-width="2"/>
<rect x="1533.48" y="152.74" width="13.15" height="357.46" fill="#ff8000" fill-opacity="0.5" stroke="#ff8000" stroke-opacity="0.5" stroke-width="2"/>
<rect x="1546.63" y="42.3" width="13.15" height="467.9" fill="#000000" fill-opacity="0.5" stroke="#000000" stroke-opacity="0.5" stroke-width="2"/>
<rect x="1572.14" y="392.03" width="13.15" height="118.17" fill="#00ff00" fill-opacity="0.5" stroke="#00ff00" stroke-opacity="0.5" stroke-width="2"/>
<rect x="1585.29" y="253.74" width="13.15" height="256.46" fill="#0000ff" fill-opacity="0.5" stroke="#0000ff" stroke-opacity="0.5" stroke-width="2"/>
<rect x="1598.44" y="229.69" width="13.15" height="280.51" fill="#ff8000" fill-opacity="0.5" stroke="#ff8000" stroke-opacity="0.5" stroke-width="2"/>
<rect x="1611.59" y="39.88" width="13.15" height="470.32" fill="#000000" fill-opacity="0.5" stroke="#000000" stroke-opacity="0.5" stroke-width="2"/>
<rect x="1637.1" y="329.51" width="13.15" height="180.69" fill="#00ff00" fill-opacity="0.5" stroke="#00ff00" stroke-opacity="0.5" stroke-width="2"/>
<rect x="1650.25" y="245.02" width="13.15" height="265.18" fill="#0000ff" fill-opacity="0.5" stroke="#0000ff" stroke-opacity="0.5" stroke-width="2"/>
<rect x="1663.4" y="159.59" width="13.15" height="350.61" fill="#ff8000" fill-opacity="0.5" stroke="#ff8000" stroke-opacity="0.5" stroke-width="2"/>
<rect x="1676.55" y="61.97" width="13.15" height="448.23" fill="#000000" fill-opacity="0.5" stroke="#000000" stroke-opacity="0.5" stroke-width="2"/>
<rect x="1702.06" y="340.56" width="13.15" height="169.64" fill="#00ff00" fill-opacity="0.5" stroke="#00ff00" stroke-opacity="0.5" stroke-width="2"/>
<rect x="1715.21" y="254.93" width="13.15" height="255.27" fill="#0000ff" fill-opacity="0.5" stroke="#0000ff" stroke-opacity="0.5" stroke-width="2"/>
<rect x="1728.36" y="148.68" width="13.15" height="361.52" fill="#ff8000" fill-opacity="0.5" stroke="#ff8000" stroke-opacity="0.5" stroke-width="2"/>
<rect x="1741.51" y="38.35" width="13.15" height="471.85" fill="#000000" fill-opacity="0.5" stroke="#000000" stroke-opacity="0.5" stroke-width="2"/>
</g>
<line x1="981" y1="17" x2="981" y2="505.2" stroke="#000" stroke-width="2.2"/>
<line x1="971" y1="17" x2="1761.5" y2="17" stroke="#000" stroke-width="2.2"/>
<line x1="1760.9" y1="17" x2="1760.9" y2="27" stroke="#000" stroke-width="2.2"/>
<line x1="1760" y1="17" x2="1760" y2="579" stroke="#6a6a6a" stroke-width="1.3"/>
<line x1="1433" y1="578" x2="1761.5" y2="578" stroke="#000" stroke-width="2.2"/>
<line x1="971.7" y1="460.5" x2="981" y2="460.5" stroke="#000" stroke-width="2.2"/>
<text x="965.3" y="468.2" text-anchor="end" font-size="29.8">65</text>
<line x1="971.7" y1="386.7" x2="981" y2="386.7" stroke="#000" stroke-width="2.2"/>
<text x="965.3" y="394.4" text-anchor="end" font-size="29.8">70</text>
<line x1="971.7" y1="313.1" x2="981" y2="313.1" stroke="#000" stroke-width="2.2"/>
<text x="965.3" y="320.8" text-anchor="end" font-size="29.8">75</text>
<line x1="971.7" y1="238.5" x2="981" y2="238.5" stroke="#000" stroke-width="2.2"/>
<text x="965.3" y="246.2" text-anchor="end" font-size="29.8">80</text>
<line x1="971.7" y1="164.9" x2="981" y2="164.9" stroke="#000" stroke-width="2.2"/>
<text x="965.3" y="172.6" text-anchor="end" font-size="29.8">85</text>
<line x1="971.7" y1="91.6" x2="981" y2="91.6" stroke="#000" stroke-width="2.2"/>
<text x="965.3" y="99.3" text-anchor="end" font-size="29.8">90</text>
<line x1="971.7" y1="17.2" x2="981" y2="17.2" stroke="#000" stroke-width="2.2"/>
<text x="965.3" y="24.9" text-anchor="end" font-size="29.8">95</text>
<line x1="976.3" y1="497.4" x2="981" y2="497.4" stroke="#000" stroke-width="2.2"/>
<line x1="976.3" y1="423.6" x2="981" y2="423.6" stroke="#000" stroke-width="2.2"/>
<line x1="976.3" y1="349.9" x2="981" y2="349.9" stroke="#000" stroke-width="2.2"/>
<line x1="976.3" y1="275.8" x2="981" y2="275.8" stroke="#000" stroke-width="2.2"/>
<line x1="976.3" y1="201.7" x2="981" y2="201.7" stroke="#000" stroke-width="2.2"/>
<line x1="976.3" y1="128.25" x2="981" y2="128.25" stroke="#000" stroke-width="2.2"/>
<line x1="976.3" y1="54.4" x2="981" y2="54.4" stroke="#000" stroke-width="2.2"/>
<rect x="982.4" y="505.6" width="451.2" height="72.6" fill="#fff" stroke="#7a7a7a" stroke-width="1.4"/>
<line x1="982.4" y1="505" x2="982.4" y2="578.9" stroke="#2a2a2a" stroke-width="1.4"/>
<rect x="992.2" y="509.2" width="63" height="31.3" fill="#00ff00" fill-opacity="0.5" stroke="#00ff00" stroke-opacity="0.5" stroke-width="2"/>
<text x="1064.7" y="534.3" font-size="29">NMT-LFE</text>
<rect x="1199.3" y="509.2" width="63" height="31.3" fill="#0000ff" fill-opacity="0.5" stroke="#0000ff" stroke-opacity="0.5" stroke-width="2"/>
<text x="1270.4" y="534.3" font-size="29">SLSE-DNN</text>
<rect x="992.2" y="544.7" width="63" height="31.3" fill="#ff8000" fill-opacity="0.5" stroke="#ff8000" stroke-opacity="0.5" stroke-width="2"/>
<text x="1064.7" y="570.3" font-size="29">MNMT</text>
<rect x="1160.8" y="544.7" width="63" height="31.3" fill="#000000" fill-opacity="0.5" stroke="#000000" stroke-opacity="0.5" stroke-width="2"/>
<text x="1231.6" y="570.3" font-size="29">FPTA</text>
<line x1="1013.8" y1="578" x2="1013.8" y2="588" stroke="#000" stroke-width="2.2"/>
<text x="1013.8" y="616.4" text-anchor="middle" font-size="29">1</text>
<line x1="1078.76" y1="578" x2="1078.76" y2="588" stroke="#000" stroke-width="2.2"/>
<text x="1078.76" y="616.4" text-anchor="middle" font-size="29">2</text>
<line x1="1143.72" y1="578" x2="1143.72" y2="588" stroke="#000" stroke-width="2.2"/>
<text x="1143.72" y="616.4" text-anchor="middle" font-size="29">3</text>
<line x1="1208.68" y1="578" x2="1208.68" y2="588" stroke="#000" stroke-width="2.2"/>
<text x="1208.68" y="616.4" text-anchor="middle" font-size="29">4</text>
<line x1="1273.64" y1="578" x2="1273.64" y2="588" stroke="#000" stroke-width="2.2"/>
<text x="1273.64" y="616.4" text-anchor="middle" font-size="29">5</text>
<line x1="1338.6" y1="578" x2="1338.6" y2="588" stroke="#000" stroke-width="2.2"/>
<text x="1338.6" y="616.4" text-anchor="middle" font-size="29">6</text>
<line x1="1403.56" y1="578" x2="1403.56" y2="588" stroke="#000" stroke-width="2.2"/>
<text x="1403.56" y="616.4" text-anchor="middle" font-size="29">7</text>
<line x1="1468.52" y1="578" x2="1468.52" y2="588" stroke="#000" stroke-width="2.2"/>
<text x="1468.52" y="616.4" text-anchor="middle" font-size="29">8</text>
<line x1="1533.48" y1="578" x2="1533.48" y2="588" stroke="#000" stroke-width="2.2"/>
<text x="1533.48" y="616.4" text-anchor="middle" font-size="29">9</text>
<line x1="1598.44" y1="578" x2="1598.44" y2="588" stroke="#000" stroke-width="2.2"/>
<text x="1598.44" y="616.4" text-anchor="middle" font-size="29">10</text>
<line x1="1663.4" y1="578" x2="1663.4" y2="588" stroke="#000" stroke-width="2.2"/>
<text x="1663.4" y="616.4" text-anchor="middle" font-size="29">11</text>
<line x1="1728.36" y1="578" x2="1728.36" y2="588" stroke="#000" stroke-width="2.2"/>
<text x="1728.36" y="616.4" text-anchor="middle" font-size="29">12</text>
<line x1="981.32" y1="578" x2="981.32" y2="583.8" stroke="#000" stroke-width="2.2"/>
<line x1="1046.28" y1="578" x2="1046.28" y2="583.8" stroke="#000" stroke-width="2.2"/>
<line x1="1111.24" y1="578" x2="1111.24" y2="583.8" stroke="#000" stroke-width="2.2"/>
<line x1="1176.2" y1="578" x2="1176.2" y2="583.8" stroke="#000" stroke-width="2.2"/>
<line x1="1241.16" y1="578" x2="1241.16" y2="583.8" stroke="#000" stroke-width="2.2"/>
<line x1="1306.12" y1="578" x2="1306.12" y2="583.8" stroke="#000" stroke-width="2.2"/>
<line x1="1371.08" y1="578" x2="1371.08" y2="583.8" stroke="#000" stroke-width="2.2"/>
<line x1="1436.04" y1="578" x2="1436.04" y2="583.8" stroke="#000" stroke-width="2.2"/>
<line x1="1501" y1="578" x2="1501" y2="583.8" stroke="#000" stroke-width="2.2"/>
<line x1="1565.96" y1="578" x2="1565.96" y2="583.8" stroke="#000" stroke-width="2.2"/>
<line x1="1630.92" y1="578" x2="1630.92" y2="583.8" stroke="#000" stroke-width="2.2"/>
<line x1="1695.88" y1="578" x2="1695.88" y2="583.8" stroke="#000" stroke-width="2.2"/>
<line x1="1760.84" y1="578" x2="1760.84" y2="583.8" stroke="#000" stroke-width="2.2"/>
<text x="1370.8" y="664" text-anchor="middle" font-size="29">Word Placement/ Sentence</text>
<text transform="translate(914.5,265.5) rotate(-90)" text-anchor="middle" font-size="29">Understandability (%)</text>
<rect x="979.8" y="2" width="2" height="1.6" fill="#9a9a9a"/>
<rect x="1756" y="2" width="2" height="1.6" fill="#c8c8c8"/>
<rect x="1764.5" y="2" width="3" height="1.6" fill="#9a9a9a"/>
</svg>
</body></html>
